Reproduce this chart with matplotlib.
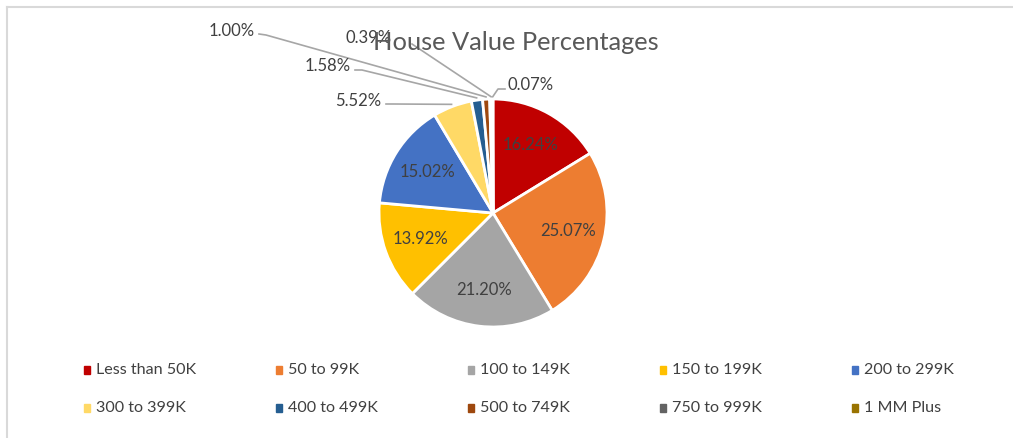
import matplotlib
matplotlib.use('Agg')
import matplotlib.pyplot as plt
from matplotlib.patches import Rectangle
import numpy as np

plt.rcParams['font.family'] = ['Lato', 'DejaVu Sans']

# data
categories = ['Less than 50K', '50 to 99K', '100 to 149K', '150 to 199K', '200 to 299K',
              '300 to 399K', '400 to 499K', '500 to 749K', '750 to 999K', '1 MM Plus']
percents = [16.24, 25.07, 21.20, 13.92, 15.02, 5.52, 1.58, 1.00, 0.39, 0.07]
colors = ['#C00000', '#ED7D31', '#A5A5A5', '#FFC000', '#4472C4',
          '#FFD966', '#255E91', '#9E480E', '#636363', '#997300']
title = 'House Value Percentages'

W, H = 1013, 438
txt_col = '#404040'

fig = plt.figure(figsize=(W / 100, H / 100), dpi=100)
ax = fig.add_axes([0, 0, 1, 1])

cx, cy, R = 493, H - 213, 114
wedges, _ = ax.pie(percents, colors=colors, startangle=90, counterclock=False,
                   center=(cx, cy), radius=R,
                   wedgeprops=dict(edgecolor='white', linewidth=2))
ax.set_xlim(0, W)
ax.set_ylim(0, H)
ax.set_aspect('auto')
ax.axis('off')

# angles of wedge middles
cum = np.cumsum(percents)
mids = cum - np.array(percents) / 2
angles = np.deg2rad(90 - 360 * mids / sum(percents))

# inside labels for the big slices
for i in range(5):
    r = 0.68 * R
    ax.text(cx + r * np.cos(angles[i]), cy + r * np.sin(angles[i]), f'{percents[i]:.2f}%',
            ha='center', va='center', fontsize=12, color=txt_col)

# outside labels with leader lines: (text x, text y, ha, line start points)
outside = {
    5: (381, 101, 'right', [(386, 104), (393, 104)]),
    6: (351, 66, 'right', [(355, 70), (362, 70)]),
    7: (255, 31, 'right', [(259, 34), (266, 35)]),
    8: (369, 38, 'center', [(412, 44)]),
    9: (508, 85, 'left', [(505, 89), (498, 89)]),
}
for i, (tx, ty, ha, pts) in outside.items():
    rim = (cx + 1.02 * R * np.cos(angles[i]), cy + 1.02 * R * np.sin(angles[i]))
    xs = [p[0] for p in pts] + [rim[0]]
    ys = [H - p[1] for p in pts] + [rim[1]]
    ax.plot(xs, ys, color='#A6A6A6', lw=1.2, zorder=1)
    ax.text(tx, H - ty, f'{percents[i]:.2f}%', ha=ha, va='center',
            fontsize=12, color=txt_col)

ax.text(516, H - 42, title, ha='center', va='center', fontsize=18.3, color='#595959')

# legend, laid out on a grid like Excel
for i, (lab, col) in enumerate(zip(categories, colors)):
    lx = 84 + 192 * (i % 5)
    ly = H - (370 + 38 * (i // 5))
    ax.add_patch(Rectangle((lx, ly - 4), 6, 8, color=col))
    ax.text(lx + 12, ly, lab, ha='left', va='center', fontsize=11.6, color=txt_col)

# chart border (top and left visible)
ax.plot([7, W], [H - 7, H - 7], color='#D9D9D9', lw=1.5)
ax.plot([7, 7], [H - 7, 0], color='#D9D9D9', lw=1.5)

fig.savefig('out.png', dpi=100)
